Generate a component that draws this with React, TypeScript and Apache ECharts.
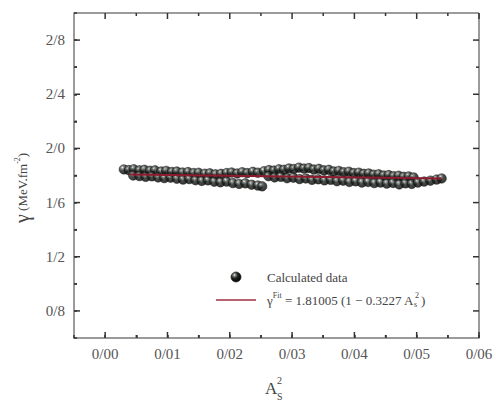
import React, { useEffect, useRef } from 'react';
import * as echarts from 'echarts';

const xTickValues = [0, 0.01, 0.02, 0.03, 0.04, 0.05, 0.06];
const xTickLabels = ['0/00', '0/01', '0/02', '0/03', '0/04', '0/05', '0/06'];
const xMinorValues = [0.005, 0.015, 0.025, 0.035, 0.045, 0.055];

const yTickValues = [0.8, 1.2, 1.6, 2.0, 2.4, 2.8];
const yTickLabels = ['0/8', '1/2', '1/6', '2/0', '2/4', '2/8'];
const yMinorValues = [1.0, 1.4, 1.8, 2.2, 2.6];

// Calculated data (four overlapping bands)
const bandUpperLeft = [
  [0.003, 1.845], [0.0038, 1.840], [0.0046, 1.846], [0.0055, 1.838], [0.0063, 1.842],
  [0.0072, 1.835], [0.008, 1.838], [0.009, 1.830], [0.0098, 1.834], [0.0107, 1.826],
  [0.0115, 1.829], [0.0124, 1.822], [0.0133, 1.825], [0.0142, 1.818], [0.015, 1.820],
  [0.016, 1.813], [0.0168, 1.816], [0.0177, 1.809], [0.0186, 1.812], [0.0195, 1.818],
  [0.0203, 1.822], [0.0212, 1.815], [0.022, 1.824], [0.0228, 1.818], [0.0237, 1.827],
  [0.0245, 1.821],
];
const bandLowerLeft = [
  [0.0045, 1.800], [0.0055, 1.796], [0.0065, 1.790], [0.0075, 1.794], [0.0085, 1.786],
  [0.0095, 1.781], [0.0105, 1.784], [0.0115, 1.776], [0.0125, 1.770], [0.0135, 1.774],
  [0.0145, 1.765], [0.0155, 1.760], [0.0165, 1.764], [0.0175, 1.754], [0.0185, 1.750],
  [0.0195, 1.755], [0.0205, 1.744], [0.0215, 1.738], [0.0225, 1.742], [0.0235, 1.732],
  [0.0245, 1.726], [0.0252, 1.720],
];
const bandUpperRight = [
  [0.0255, 1.832], [0.0263, 1.840], [0.0271, 1.836], [0.0279, 1.846], [0.0287, 1.842],
  [0.0295, 1.852], [0.0303, 1.848], [0.0311, 1.858], [0.0319, 1.851], [0.0327, 1.855],
  [0.0335, 1.844], [0.0343, 1.849], [0.0351, 1.838], [0.0359, 1.842], [0.0367, 1.830],
  [0.0375, 1.834], [0.0383, 1.824], [0.0391, 1.828], [0.0399, 1.818], [0.0407, 1.821],
  [0.0415, 1.812], [0.0423, 1.815], [0.0431, 1.806], [0.0439, 1.809], [0.0447, 1.800],
  [0.0455, 1.803], [0.0463, 1.795], [0.0471, 1.798], [0.0479, 1.790], [0.0487, 1.793],
  [0.0495, 1.786],
];
const bandLowerRight = [
  [0.0262, 1.795], [0.0272, 1.786], [0.0282, 1.790], [0.0292, 1.780], [0.0302, 1.784],
  [0.0312, 1.774], [0.0322, 1.778], [0.0332, 1.768], [0.0342, 1.772], [0.0352, 1.764],
  [0.0362, 1.768], [0.0372, 1.758], [0.0382, 1.762], [0.0392, 1.752], [0.0402, 1.757],
  [0.0412, 1.748], [0.0422, 1.752], [0.0432, 1.744], [0.0442, 1.748], [0.0452, 1.740],
  [0.0462, 1.745], [0.0472, 1.734], [0.0482, 1.742], [0.0492, 1.738], [0.0502, 1.748],
  [0.0512, 1.755], [0.0522, 1.762], [0.0532, 1.770], [0.054, 1.778],
];

// Fit line endpoints: gamma = 1.81005 (1 - 0.3227 As^2)
const fitLine = [[0.004, 1.808], [0.054, 1.778]];

const legendNames = ['Calculated data', 'γ', 'Fit', ' = 1.81005 (1 − 0.3227 A', 's', '2', ')'];

const FONT = 'Liberation Serif';
const X_MIN = -0.005;
const X_MAX = 0.06;
const Y_MIN = 0.6;
const Y_MAX = 3.0;
const GRID = { left: 74, top: 13, right: 17, bottom: 62 };
const W = 496;
const H = 400;

function lookup(values: number[], labels: string[], v: number) {
  const i = values.findIndex((t) => Math.abs(t - v) < 1e-9);
  return i >= 0 ? labels[i] : '';
}

function textWidth(text: string, size: number) {
  try {
    const t = new (echarts.graphic as any).Text({ style: { text, fontSize: size, fontFamily: FONT } });
    const w = t.getBoundingRect().width;
    if (isFinite(w) && w > 0) return w;
  } catch (e) {
    /* ignore */
  }
  return text.length * size * 0.5;
}

function plainText(x: number, y: number, text: string, size: number, extra: any = {}) {
  return {
    type: 'text',
    x,
    y,
    silent: true,
    ...extra,
    style: { text, fontFamily: FONT, fontSize: size, fill: '#444', align: 'left', verticalAlign: 'middle' },
  };
}

export default function App() {
  const ref = useRef<HTMLDivElement>(null);

  useEffect(() => {
    document.body.style.margin = '0';
    if (!ref.current) return;
    const chart = echarts.init(ref.current, null, { renderer: 'svg' });

    const makeSphere = () =>
      new echarts.graphic.RadialGradient(0.35, 0.3, 0.75, [
        { offset: 0, color: '#ffffff' },
        { offset: 0.15, color: '#8a8f8a' },
        { offset: 0.45, color: '#1e241f' },
        { offset: 1, color: '#000000' },
      ]);

    const calcData = [...bandUpperLeft, ...bandLowerLeft, ...bandUpperRight, ...bandLowerRight];

    // ---- static texts (axis titles, legend) ----
    const texts: any[] = [];
    // y-axis title, rotated, reading bottom to top
    let yy = 223;
    const yParts: [string, number, number][] = [
      ['γ', 20, 0],
      [' (MeV.fm', 13, 0],
      ['-2', 8, -5],
      [')', 13, 0],
    ];
    yParts.forEach(([t, s, dx]) => {
      texts.push(plainText(22 + dx, yy, t, s, { rotation: Math.PI / 2 }));
      yy -= textWidth(t, s);
    });
    // x-axis title
    texts.push(plainText(265, 388, 'A', 17));
    texts.push(plainText(277, 380, '2', 10));
    texts.push(plainText(277, 396, 'S', 10));

    // legend row 1
    texts.push({
      type: 'circle',
      silent: true,
      shape: { cx: 236, cy: 277, r: 5 },
      style: { fill: makeSphere(), stroke: '#111', lineWidth: 0.6 },
    });
    texts.push(plainText(267, 277, legendNames[0], 13));
    // legend row 2
    texts.push({
      type: 'line',
      silent: true,
      shape: { x1: 216, y1: 300, x2: 256, y2: 300 },
      style: { stroke: '#a03040', lineWidth: 1.5 },
    });
    let lx = 267;
    texts.push(plainText(lx, 300, legendNames[1], 13));
    lx += textWidth(legendNames[1], 13);
    texts.push(plainText(lx, 295, legendNames[2], 8));
    lx += textWidth(legendNames[2], 8);
    texts.push(plainText(lx, 300, legendNames[3], 13));
    lx += textWidth(legendNames[3], 13);
    texts.push(plainText(lx, 304, legendNames[4], 8));
    texts.push(plainText(lx + 1, 295, legendNames[5], 8));
    lx += Math.max(textWidth(legendNames[4], 8), textWidth(legendNames[5], 8) + 1) + 2;
    texts.push(plainText(lx, 300, legendNames[6], 13));

    chart.setOption({
      animation: false,
      grid: { ...GRID },
      xAxis: {
        type: 'value',
        min: X_MIN,
        max: X_MAX,
        interval: 0.005,
        axisLine: { show: true, onZero: false, lineStyle: { color: '#7a7a7a', width: 1.5 } },
        splitLine: { show: false },
        axisTick: { show: true, inside: true, length: 3, lineStyle: { color: '#333', width: 1.5 } },
        axisLabel: {
          show: true,
          margin: 8,
          fontFamily: FONT,
          fontSize: 15,
          color: '#555',
          formatter: (v: number) => lookup(xTickValues, xTickLabels, v),
        },
      },
      yAxis: {
        type: 'value',
        min: Y_MIN,
        max: Y_MAX,
        interval: 0.2,
        axisLine: { show: true, onZero: false, lineStyle: { color: '#7a7a7a', width: 1.5 } },
        splitLine: { show: false },
        axisTick: { show: true, inside: true, length: 3, lineStyle: { color: '#333', width: 1.5 } },
        axisLabel: {
          show: true,
          margin: 9,
          fontFamily: FONT,
          fontSize: 15,
          color: '#555',
          formatter: (v: number) => lookup(yTickValues, yTickLabels, v),
        },
      },
      series: [
        {
          name: 'Calculated data',
          type: 'scatter',
          symbol: 'circle',
          symbolSize: 9.5,
          itemStyle: { color: makeSphere(), borderColor: '#111', borderWidth: 0.6 },
          data: calcData,
        },
        {
          name: 'fit',
          type: 'line',
          symbol: 'none',
          showSymbol: false,
          lineStyle: { color: '#8e1b2e', width: 2 },
          data: fitLine,
        },
      ],
      graphic: texts,
    });

    // ---- frame (top/right) and tick marks, placed through the chart's scales ----
    const toPx = (x: number, y: number): number[] => {
      let p: any = null;
      try {
        p = chart.convertToPixel({ gridIndex: 0 }, [x, y]);
      } catch (e) {
        p = null;
      }
      if (!p || !isFinite(p[0]) || !isFinite(p[1])) {
        const l = GRID.left;
        const r = W - GRID.right;
        const t = GRID.top;
        const b = H - GRID.bottom;
        p = [l + ((x - X_MIN) / (X_MAX - X_MIN)) * (r - l), b - ((y - Y_MIN) / (Y_MAX - Y_MIN)) * (b - t)];
      }
      return p;
    };
    const [left, bottom] = toPx(X_MIN, Y_MIN);
    const [right, top] = toPx(X_MAX, Y_MAX);
    const tickStyle = { stroke: '#333', lineWidth: 1.5 };
    const frameStyle = { stroke: '#7a7a7a', lineWidth: 1.5 };
    const extra: any[] = [
      { type: 'line', silent: true, shape: { x1: left, y1: top, x2: right, y2: top }, style: frameStyle },
      { type: 'line', silent: true, shape: { x1: right, y1: top, x2: right, y2: bottom }, style: frameStyle },
    ];
    const addX = (v: number, len: number) => {
      const px = toPx(v, Y_MIN)[0];
      extra.push({ type: 'line', silent: true, shape: { x1: px, y1: bottom, x2: px, y2: bottom - len }, style: tickStyle });
      extra.push({ type: 'line', silent: true, shape: { x1: px, y1: top, x2: px, y2: top + len }, style: tickStyle });
    };
    const addY = (v: number, len: number) => {
      const py = toPx(X_MIN, v)[1];
      extra.push({ type: 'line', silent: true, shape: { x1: left, y1: py, x2: left + len, y2: py }, style: tickStyle });
      extra.push({ type: 'line', silent: true, shape: { x1: right, y1: py, x2: right - len, y2: py }, style: tickStyle });
    };
    xTickValues.forEach((v) => addX(v, 6));
    xMinorValues.forEach((v) => addX(v, 3));
    yTickValues.forEach((v) => addY(v, 6));
    yMinorValues.forEach((v) => addY(v, 3));

    chart.setOption({ graphic: [...texts, ...extra] });

    return () => chart.dispose();
  }, []);

  return <div ref={ref} style={{ width: 496, height: 400 }} />;
}
